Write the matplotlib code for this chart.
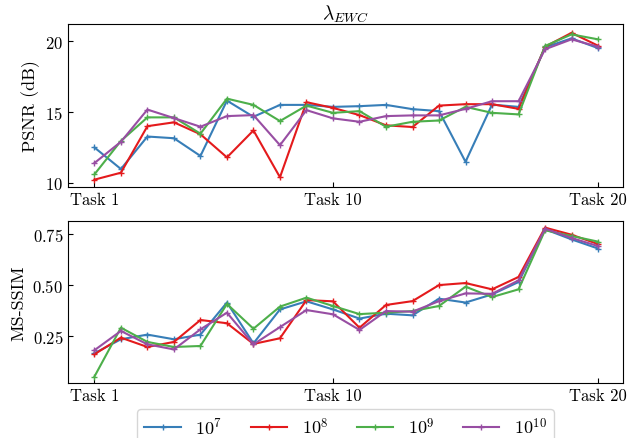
import matplotlib
matplotlib.use("Agg")
import matplotlib.pyplot as plt

plt.rcParams["font.family"] = "serif"
plt.rcParams["font.serif"] = ["cmr10"]
plt.rcParams["mathtext.fontset"] = "cm"
plt.rcParams["axes.unicode_minus"] = False
plt.rcParams["axes.formatter.use_mathtext"] = True

tasks = list(range(1, 21))
labels = ["$10^{7}$", "$10^{8}$", "$10^{9}$", "$10^{10}$"]
colors = ["#377eb8", "#e41a1c", "#4daf4a", "#984ea3"]

psnr_1e7 = [12.5, 10.98, 13.27, 13.15, 11.9, 15.8, 14.66, 15.5, 15.5, 15.36,
            15.41, 15.5, 15.2, 15.06, 11.49, 15.52, 15.36, 19.56, 20.19, 19.5]
psnr_1e8 = [10.23, 10.72, 14.0, 14.27, 13.43, 11.8, 13.7, 10.4, 15.69, 15.29,
            14.78, 14.06, 13.94, 15.45, 15.55, 15.55, 15.22, 19.6, 20.58, 19.67]
psnr_1e9 = [10.6, 12.96, 14.62, 14.62, 13.47, 15.94, 15.5, 14.36, 15.45, 14.94,
            15.06, 13.96, 14.31, 14.4, 15.36, 14.94, 14.83, 19.65, 20.47, 20.12]
psnr_1e10 = [11.4, 12.9, 15.17, 14.57, 13.96, 14.71, 14.78, 12.66, 15.13, 14.55,
             14.31, 14.71, 14.76, 14.76, 15.22, 15.76, 15.76, 19.42, 20.12, 19.6]

ssim_1e7 = [0.164, 0.233, 0.256, 0.233, 0.256, 0.414, 0.213, 0.38, 0.42, 0.38,
            0.335, 0.359, 0.351, 0.433, 0.414, 0.454, 0.515, 0.775, 0.725, 0.68]
ssim_1e8 = [0.159, 0.241, 0.195, 0.22, 0.328, 0.312, 0.21, 0.238, 0.426, 0.42,
            0.29, 0.402, 0.421, 0.5, 0.51, 0.479, 0.54, 0.783, 0.748, 0.702]
ssim_1e9 = [0.049, 0.29, 0.22, 0.195, 0.2, 0.407, 0.285, 0.394, 0.438, 0.397,
            0.357, 0.364, 0.372, 0.397, 0.492, 0.441, 0.479, 0.77, 0.742, 0.714]
ssim_1e10 = [0.179, 0.274, 0.208, 0.183, 0.282, 0.364, 0.208, 0.293, 0.377, 0.356,
             0.279, 0.372, 0.369, 0.421, 0.459, 0.457, 0.523, 0.778, 0.732, 0.692]

psnr = [psnr_1e7, psnr_1e8, psnr_1e9, psnr_1e10]
ssim = [ssim_1e7, ssim_1e8, ssim_1e9, ssim_1e10]

fig = plt.figure(figsize=(6.37, 4.39), dpi=100)
ax1 = fig.add_axes([0.107, 0.572, 0.871, 0.371])
ax2 = fig.add_axes([0.107, 0.125, 0.871, 0.369])

for i in range(4):
    ax1.plot(tasks, psnr[i], color=colors[i], marker="+", markersize=4, linewidth=1.5, label=labels[i])
    ax2.plot(tasks, ssim[i], color=colors[i], marker="+", markersize=4, linewidth=1.5, label=labels[i])

ax1.set_title(r"$\lambda_{EWC}$", fontsize=14, pad=4)
ax1.set_ylabel("PSNR (dB)", fontsize=13)
ax2.set_ylabel("MS-SSIM", fontsize=13)
ax1.set_ylim(9.72, 21.2)
ax2.set_ylim(0.017, 0.815)
ax1.set_yticks([10, 15, 20])
ax2.set_yticks([0.25, 0.50, 0.75])
for ax in (ax1, ax2):
    ax.set_xlim(0.01, 20.94)
    ax.set_xticks([1, 10, 20])
    ax.set_xticklabels(["Task 1", "Task 10", "Task 20"])
    ax.tick_params(direction="in", labelsize=12)

ax2.legend(loc="upper center", bbox_to_anchor=(0.5, -0.16), ncol=4, fontsize=13,
           handlelength=2, columnspacing=1.6, borderaxespad=0)

plt.savefig("out.png", format="png")
